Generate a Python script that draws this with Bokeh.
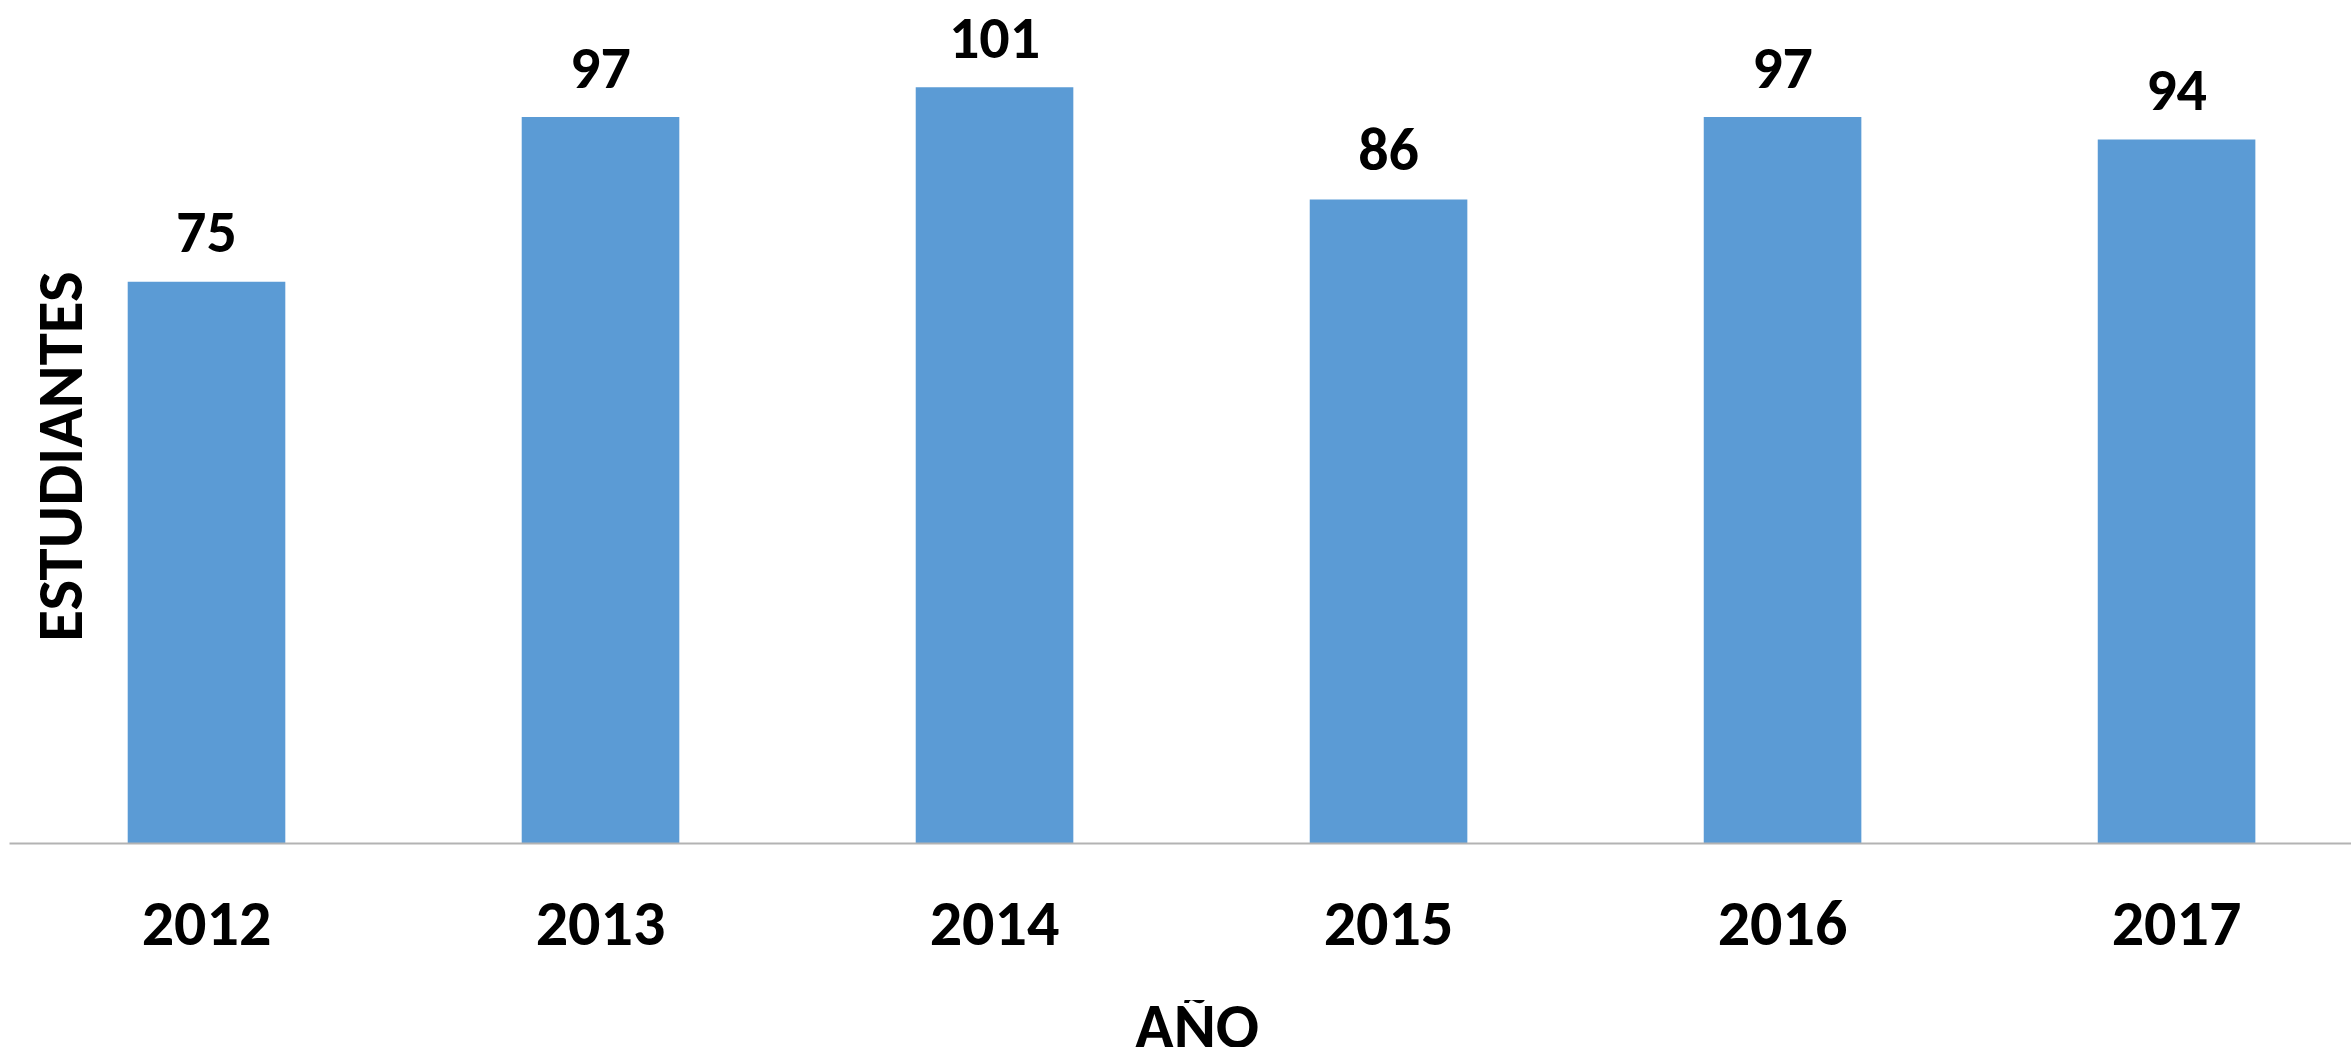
import math
from bokeh.plotting import figure
from bokeh.models import Range1d, FixedTicker, Label, ColumnDataSource, Div
from bokeh.layouts import column
from bokeh.core.properties import value
from bokeh.embed import file_html
from bokeh.resources import INLINE

years = ["2012", "2013", "2014", "2015", "2016", "2017"]
students = [75, 97, 101, 86, 97, 94]
x_title = "AÑO"
y_title = "ESTUDIANTES"

FONT = "Carlito, 'Liberation Sans Narrow', sans-serif"

idx = list(range(len(years)))
src = ColumnDataSource(dict(x=idx, top=students, lab=[str(v) for v in students]))

p = figure(width=2351, height=1000, output_backend="svg", toolbar_location=None,
           x_range=Range1d(-0.5, 5.444), y_range=Range1d(0, 111.5),
           min_border_left=9, min_border_right=0, min_border_top=8, min_border_bottom=157)
p.outline_line_color = None
p.xgrid.visible = False
p.ygrid.visible = False
p.yaxis.visible = False
p.background_fill_color = "white"
p.border_fill_color = "white"

p.vbar(x="x", top="top", width=0.4, bottom=0, source=src, fill_color="#5B9BD5", line_color=None)
p.text(x="x", y="top", text="lab", source=src, text_align="center", text_baseline="alphabetic",
       y_offset=-49, text_font=value(FONT), text_font_style="bold",
       text_font_size="60px", text_color="black")

ax = p.xaxis[0]
ax.ticker = FixedTicker(ticks=idx)
ax.major_label_overrides = {i: y for i, y in zip(idx, years)}
ax.major_tick_line_color = None
ax.minor_tick_line_color = None
ax.major_tick_out = 0
ax.major_tick_in = 0
ax.axis_line_color = "#B3B3B3"
ax.axis_line_width = 2
ax.major_label_standoff = 59
ax.major_label_text_font = FONT
ax.major_label_text_font_style = "bold"
ax.major_label_text_font_size = "64px"
ax.major_label_text_color = "black"

p.add_layout(Label(x=50, y=387, x_units="screen", y_units="screen", text=y_title,
                   angle=math.pi / 2, text_align="center", text_baseline="middle",
                   text_font=FONT, text_font_style="bold",
                   text_font_size="65px", text_color="black"))

xlab = Div(
    text=("<div style=\"display:block;width:2351px;box-sizing:border-box;"
          "font-family:Carlito,'Liberation Sans Narrow',sans-serif;font-weight:bold;"
          "font-size:64px;line-height:64px;text-align:center;padding-left:43px;margin-top:-6px;"
          "white-space:nowrap;color:black\">" + x_title + "</div>"),
    width=2351, height=47, margin=0, styles={"overflow": "hidden", "width": "2351px"})

layout = column(p, xlab, spacing=0, margin=0)
open("out.html", "w").write(file_html(layout, INLINE))
